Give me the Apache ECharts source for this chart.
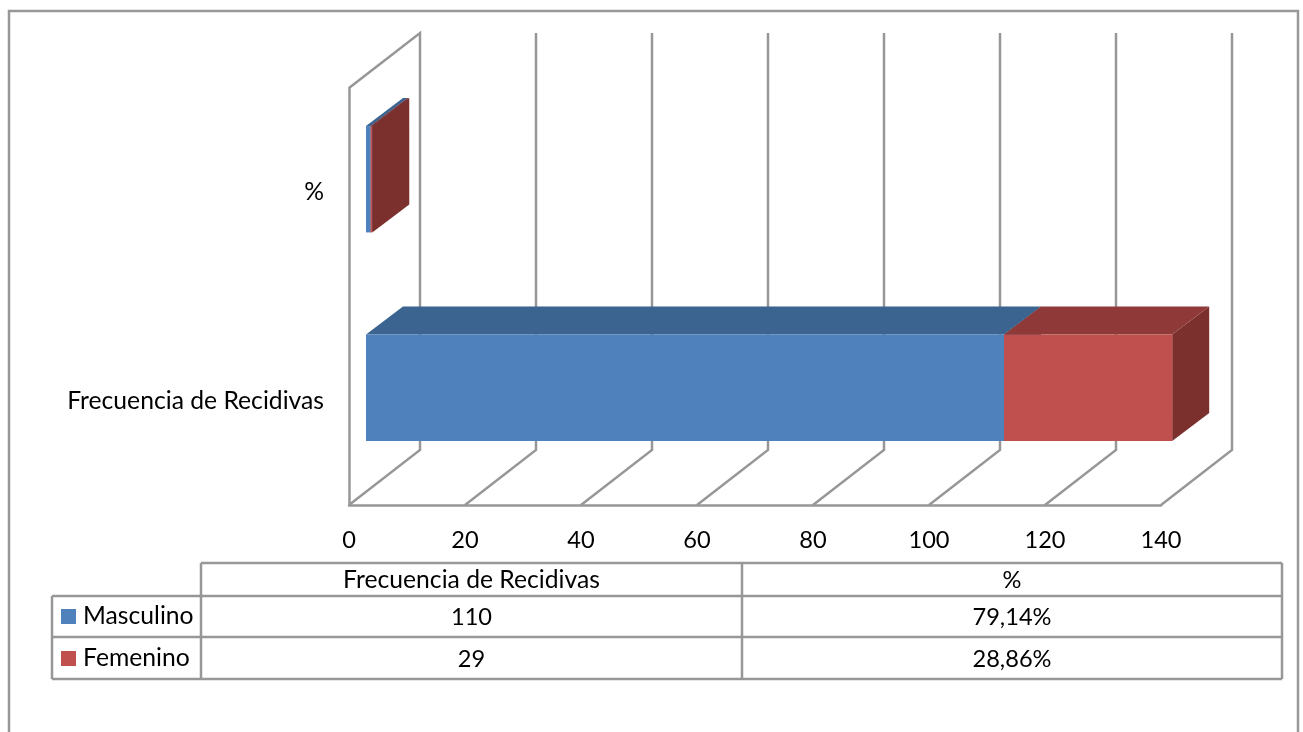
<!DOCTYPE html>
<html lang="es">
<head>
<meta charset="utf-8">
<title>Frecuencia de Recidivas</title>
<style>html,body{margin:0;padding:0;background:#fff}#chart{width:1303px;height:732px}</style>
<script src="https://cdn.jsdelivr.net/npm/echarts@6/dist/echarts.min.js"></script>
</head>
<body>
<div id="chart"></div>
<script>
// Chart values
const categories = ['Frecuencia de Recidivas', '%'];
const masculino = [110, 0.7914];
const femenino = [29, 0.2886];
const xTicks = [0, 20, 40, 60, 80, 100, 120, 140];

// Data table text
const tableHeader = ['Frecuencia de Recidivas', '%'];
const masculinoCells = ['110', '79,14%'];
const femeninoCells = ['29', '28,86%'];

const FONT = 'Lato, Carlito, "Open Sans", sans-serif';
const WORD_SIZE = 24.7;
const DIGIT_SIZE = 23.6;
const LINE = '#979797';
const LINE_W = 2.5;

const WALL_DX = 71, WALL_DY = -55;
const BAR_X0 = 17, BAR_Y0 = -13;
const BAR_DX = 37, BAR_DY = -28;

function poly(points, fill) {
  return { type: 'polygon', shape: { points }, style: { fill, stroke: null } };
}

// Box faces for one stacked segment: start/end come from the running stack total.
function boxSeries(name, values, below, front, top, side) {
  return {
    name, type: 'custom', coordinateSystem: 'cartesian2d', clip: false, z: 3,
    itemStyle: { color: front },
    data: values.map((v, i) => [below[i], below[i] + v, i]),
    renderItem(params, api) {
      const a = api.coord([api.value(0), api.value(2)]);
      const b = api.coord([api.value(1), api.value(2)]);
      const h = api.size([0, 1])[1] * 0.51;
      const x0 = a[0] + BAR_X0, x1 = b[0] + BAR_X0;
      const y0 = a[1] + BAR_Y0 - h / 2, y1 = y0 + h;
      return {
        type: 'group',
        children: [
          poly([[x1, y0], [x1 + BAR_DX, y0 + BAR_DY], [x1 + BAR_DX, y1 + BAR_DY], [x1, y1]], side),
          poly([[x0, y0], [x1, y0], [x1 + BAR_DX, y0 + BAR_DY], [x0 + BAR_DX, y0 + BAR_DY]], top),
          poly([[x0, y0], [x1, y0], [x1, y1], [x0, y1]], front)
        ]
      };
    }
  };
}

// Floor lines, back wall lines and the slanted top of the side wall.
const wallSeries = {
  name: 'walls', type: 'custom', coordinateSystem: 'cartesian2d', clip: false, z: 1,
  silent: true,
  data: xTicks.map(v => [v]),
  renderItem(params, api) {
    const cs = params.coordSys;
    const x = api.coord([api.value(0), 0])[0];
    const bottom = cs.y + cs.height;
    const pts = [[x, bottom], [x + WALL_DX, bottom + WALL_DY], [x + WALL_DX, cs.y + WALL_DY]];
    if (api.value(0) === 0) pts.push([x, cs.y]);
    return {
      type: 'polyline', shape: { points: pts },
      style: { stroke: LINE, lineWidth: LINE_W, fill: null, lineJoin: 'miter' }
    };
  }
};

// Data table geometry
const colX = [201, 742, 1282];
const rowY = [563, 596, 637, 679];
const tableLeft = 52;

function hLine(x1, x2, y) {
  return { type: 'line', shape: { x1, y1: y, x2, y2: y }, style: { stroke: LINE, lineWidth: LINE_W } };
}
function vLine(x, y1, y2) {
  return { type: 'line', shape: { x1: x, y1, x2: x, y2 }, style: { stroke: LINE, lineWidth: LINE_W } };
}
function cell(text, col, row, size) {
  return {
    type: 'text',
    style: {
      text, x: (colX[col] + colX[col + 1]) / 2, y: (rowY[row] + rowY[row + 1]) / 2 + 1,
      align: 'center', verticalAlign: 'middle', font: size + 'px ' + FONT, fill: '#000'
    }
  };
}

const tableParts = [
  // outer frame of the chart area, open at the bottom edge
  { type: 'polyline', shape: { points: [[9, 732], [9, 11], [1298, 11], [1298, 732]] },
    style: { stroke: LINE, lineWidth: LINE_W, fill: null } },
  hLine(colX[0], colX[2], rowY[0]),
  hLine(tableLeft, colX[2], rowY[1]),
  hLine(tableLeft, colX[2], rowY[2]),
  hLine(tableLeft, colX[2], rowY[3]),
  vLine(tableLeft, rowY[1], rowY[3]),
  vLine(colX[0], rowY[0], rowY[3]),
  vLine(colX[1], rowY[0], rowY[3]),
  vLine(colX[2], rowY[0], rowY[3])
];
tableHeader.forEach((t, i) => tableParts.push(cell(t, i, 0, i === 0 ? WORD_SIZE : DIGIT_SIZE)));
masculinoCells.forEach((t, i) => tableParts.push(cell(t, i, 1, DIGIT_SIZE)));
femeninoCells.forEach((t, i) => tableParts.push(cell(t, i, 2, DIGIT_SIZE)));

const chart = echarts.init(document.getElementById('chart'), null, { renderer: 'canvas' });
chart.setOption({
  animation: false,
  backgroundColor: '#ffffff',
  grid: { left: 349, top: 88, width: 812, height: 417, containLabel: false },
  xAxis: {
    type: 'value', min: 0, max: 140, interval: 20,
    axisLine: { show: true, onZero: false, lineStyle: { color: LINE, width: LINE_W } },
    axisTick: { show: false },
    splitLine: { show: false },
    axisLabel: { margin: 23, color: '#000', fontFamily: FONT, fontSize: DIGIT_SIZE,
      showMinLabel: true, showMaxLabel: true }
  },
  yAxis: {
    type: 'category', data: categories,
    axisLine: { show: true, lineStyle: { color: LINE, width: LINE_W } },
    axisTick: { show: false },
    axisLabel: { margin: 25, color: '#000', fontFamily: FONT, fontSize: WORD_SIZE,
      padding: [5, 0, 0, 0] }
  },
  legend: {
    left: 61, top: 604, padding: 0, orient: 'vertical', itemWidth: 15, itemHeight: 15, itemGap: 17,
    selectedMode: false, icon: 'rect',
    data: ['Masculino', 'Femenino'],
    textStyle: { color: '#000', fontFamily: FONT, fontSize: WORD_SIZE,
      padding: [0, 0, 1, 2] }
  },
  graphic: { elements: tableParts },
  series: [
    wallSeries,
    boxSeries('Masculino', masculino, [0, 0], '#4F81BD', '#3B6491', '#33557E'),
    boxSeries('Femenino', femenino, masculino, '#C0504D', '#8F3A38', '#7B302E')
  ]
});
</script>
</body>
</html>
